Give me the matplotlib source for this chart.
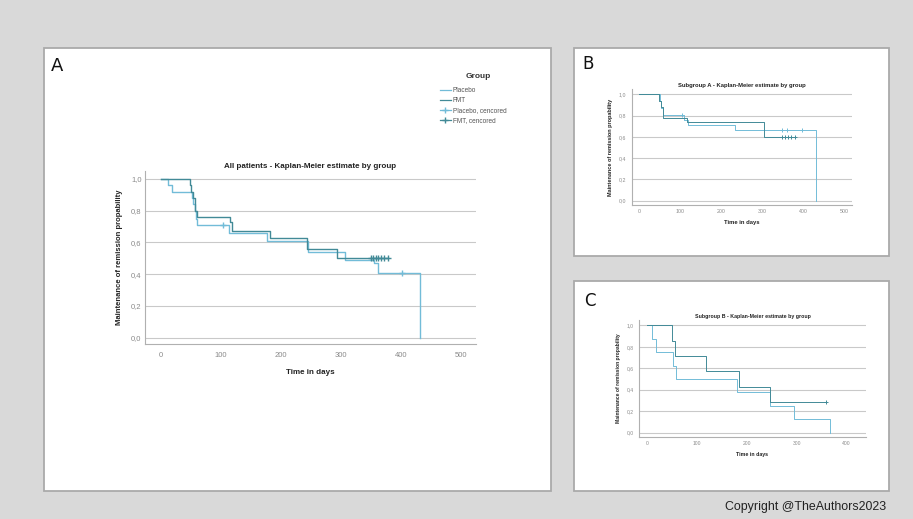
import matplotlib
matplotlib.use("Agg")
import matplotlib.pyplot as plt
from matplotlib.patches import Rectangle
from matplotlib.lines import Line2D
from matplotlib.ticker import FuncFormatter

plt.rcParams['font.family'] = ['Liberation Sans', 'DejaVu Sans']

# All patients
A_PLACEBO_T = [12, 18, 52, 54, 56, 58, 60, 113, 176, 245, 307, 355, 362, 432]
A_PLACEBO_S = [0.96, 0.92, 0.88, 0.84, 0.80, 0.75, 0.71, 0.66, 0.61, 0.54, 0.49, 0.47, 0.41, 0.0]
A_PLACEBO_CT = [104, 401]
A_PLACEBO_CS = [0.71, 0.41]
A_FMT_T = [48, 50, 53, 56, 57, 60, 115, 119, 182, 243, 293]
A_FMT_S = [0.96, 0.92, 0.88, 0.84, 0.80, 0.76, 0.73, 0.67, 0.63, 0.56, 0.505]
A_FMT_CT = [350, 354, 358, 362, 366, 372, 378]
A_FMT_CS = [0.505] * 7

# Subgroup A
SA_PLACEBO_T = [50, 53, 57, 110, 120, 235, 432]
SA_PLACEBO_S = [0.94, 0.87, 0.81, 0.76, 0.71, 0.667, 0.0]
SA_PLACEBO_CT = [104, 350, 362, 398]
SA_PLACEBO_CS = [0.81, 0.667, 0.667, 0.667]
SA_FMT_T = [49, 52, 58, 117, 304]
SA_FMT_S = [0.94, 0.88, 0.775, 0.744, 0.597]
SA_FMT_CT = [348, 356, 364, 372, 380]
SA_FMT_CS = [0.597] * 5

# Subgroup B
SB_PLACEBO_T = [10, 18, 52, 58, 179, 247, 295, 366]
SB_PLACEBO_S = [0.875, 0.75, 0.625, 0.5, 0.375, 0.25, 0.125, 0.0]
SB_PLACEBO_CT = []
SB_PLACEBO_CS = []
SB_FMT_T = [50, 55, 117, 184, 247]
SB_FMT_S = [0.857, 0.714, 0.571, 0.429, 0.286]
SB_FMT_CT = [358]
SB_FMT_CS = [0.286]

Y_TICKS = [0.0, 0.2, 0.4, 0.6, 0.8, 1.0]
LEGEND_LABELS = ['Placebo', 'FMT', 'Placebo, cencored', 'FMT, cencored']

C_PLACEBO = '#72bcd8'
C_FMT = '#428a97'
W, H = 913, 519


def fr(x0, y0, x1, y1):
    # pixel box (top-left origin) -> figure fraction rect
    return [x0 / W, 1 - y1 / H, (x1 - x0) / W, (y1 - y0) / H]


def km(ax, t, s, ct, cs, color, lw):
    xs = [0] + list(t)
    ys = [1.0] + list(s)
    if ct and ct[-1] > xs[-1]:
        xs.append(ct[-1])
        ys.append(ys[-1])
    ax.step(xs, ys, where='post', color=color, lw=lw)
    if ct:
        ax.plot(ct, cs, ls='none', marker='+', color=color, ms=lw * 4, mew=lw)


def style(ax, xlim, xticks, fs, title, title_fs, pads):
    ax.set_xlim(*xlim)
    ax.set_ylim(-0.04, 1.05)
    ax.set_xticks(xticks)
    ax.set_yticks(Y_TICKS)
    ax.yaxis.set_major_formatter(FuncFormatter(lambda v, p: f"{v:.1f}".replace('.', ',')))
    ax.set_facecolor('none')
    ax.grid(axis='y', color='#c9c9c9', lw=0.8)
    ax.set_axisbelow(True)
    for s in ['top', 'right']:
        ax.spines[s].set_visible(False)
    for s in ['left', 'bottom']:
        ax.spines[s].set_color('#b0b0b0')
        ax.spines[s].set_linewidth(0.8)
    ax.tick_params(length=0, labelsize=fs, labelcolor='#8a8a8a')
    ax.tick_params(axis='x', pad=pads[0])
    ax.tick_params(axis='y', pad=pads[1])
    ax.set_title(title, fontsize=title_fs, fontweight='bold', pad=pads[2], color='#222222')
    ax.set_xlabel('Time in days', fontsize=title_fs, fontweight='bold', labelpad=pads[3], color='#222222')
    ax.set_ylabel('Maintenance of remission propability', fontsize=title_fs * 0.95,
                  fontweight='bold', labelpad=pads[4], color='#222222')


fig = plt.figure(figsize=(W / 100, H / 100), dpi=100)
fig.patch.set_facecolor('#d9d9d9')

# white panels
for box in [(44, 48, 551, 491), (574, 48, 889, 256), (574, 281, 889, 491)]:
    r = fr(*box)
    fig.patches.append(Rectangle((r[0], r[1]), r[2], r[3], transform=fig.transFigure,
                                 facecolor='white', edgecolor='#aaaaaa', lw=1.3, zorder=-10))

fig.text(51 / W, 1 - 71 / H, 'A', fontsize=13, color='#111111', family='DejaVu Sans')
fig.text(582 / W, 1 - 69 / H, 'B', fontsize=12, color='#111111', family='DejaVu Sans')
fig.text(584 / W, 1 - 306 / H, 'C', fontsize=12, color='#111111', family='DejaVu Sans')
fig.text(725 / W, 1 - 510 / H, 'Copyright @TheAuthors2023', fontsize=8.9, color='#222222')

# panel A
axA = fig.add_axes(fr(145, 171, 476, 344))
km(axA, A_PLACEBO_T, A_PLACEBO_S, A_PLACEBO_CT, A_PLACEBO_CS, C_PLACEBO, 1.0)
km(axA, A_FMT_T, A_FMT_S, A_FMT_CT, A_FMT_CS, C_FMT, 1.0)
style(axA, (-26.7, 525), [0, 100, 200, 300, 400, 500], 5.5,
      'All patients - Kaplan-Meier estimate by group', 5.8, (6, 2.5, 2, 7, 6))

# legend (title placed separately, as in the SPSS output)
fig.text(478 / W, 1 - 76 / H, 'Group', fontsize=6, fontweight='bold',
         color='#333333', ha='center', va='center')
handles = [Line2D([], [], color=C_PLACEBO, lw=0.9),
           Line2D([], [], color=C_FMT, lw=0.9),
           Line2D([], [], color=C_PLACEBO, lw=0.9, marker='+', ms=4),
           Line2D([], [], color=C_FMT, lw=0.9, marker='+', ms=4)]
leg = fig.legend(handles, LEGEND_LABELS,
                 loc='upper left', bbox_to_anchor=(437 / W, 1 - 84 / H), frameon=False,
                 fontsize=4.7, handlelength=1.6, handletextpad=0.3,
                 labelspacing=0.45, borderpad=0)
for t in leg.get_texts():
    t.set_color('#555555')

# panel B
axB = fig.add_axes(fr(632, 89, 852, 205))
km(axB, SA_PLACEBO_T, SA_PLACEBO_S, SA_PLACEBO_CT, SA_PLACEBO_CS, C_PLACEBO, 0.7)
km(axB, SA_FMT_T, SA_FMT_S, SA_FMT_CT, SA_FMT_CS, C_FMT, 0.7)
style(axB, (-18, 520), [0, 100, 200, 300, 400, 500], 3.8,
      'Subgroup A - Kaplan-Meier estimate by group', 4.2, (3, 4, 1.5, 4, 4))

# panel C
axC = fig.add_axes(fr(639, 320, 866, 437))
km(axC, SB_PLACEBO_T, SB_PLACEBO_S, SB_PLACEBO_CT, SB_PLACEBO_CS, C_PLACEBO, 0.7)
km(axC, SB_FMT_T, SB_FMT_S, SB_FMT_CT, SB_FMT_CS, C_FMT, 0.7)
style(axC, (-17, 439), [0, 100, 200, 300, 400], 3.6,
      'Subgroup B - Kaplan-Meier estimate by group', 3.8, (3, 4, 1.5, 4, 4))

fig.savefig('out.png', dpi=100, facecolor=fig.get_facecolor())
